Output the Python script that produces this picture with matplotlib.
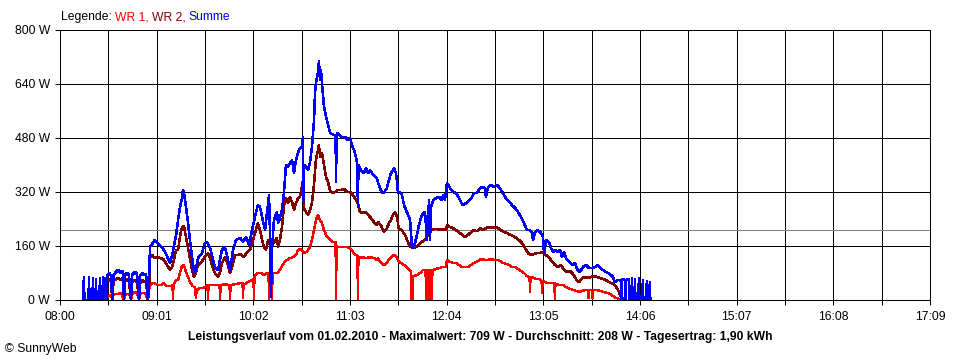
import matplotlib.pyplot as plt

# SunnyWeb day curve, 01.02.2010 - time in minutes after 08:00, power in W
wr1_min = [25.2, 29.0, 29.7, 31.0, 32.2, 33.0, 33.4, 35.3, 36.6, 38.5, 40.4, 41.0, 42.3, 44.2, 44.8, 45.4,
           47.3, 48.6, 49.9, 50.5, 52.0, 53.6, 55.5, 56.2, 56.8, 58.1, 59.9, 61.8, 63.7, 65.6, 67.5, 69.4,
           71.0, 71.3, 71.6, 73.2, 74.5, 75.7, 77.0, 78.2, 79.5, 80.8, 82.0, 83.3, 85.2, 85.8, 86.2, 87.1,
           88.3, 90.2, 91.5, 93.1, 93.4, 93.7, 95.9, 97.8, 100.7, 101.0, 101.3, 104.1, 107.0, 107.3, 107.6,
           110.4, 113.6, 115.2, 115.5, 115.8, 116.7, 118.6, 121.2, 122.1, 122.4, 122.7, 123.0, 124.9, 126.8,
           128.7, 130.6, 131.6, 131.9, 132.2, 132.5, 133.5, 133.8, 134.1, 136.9, 137.6, 139.4, 141.3, 143.2,
           145.1, 147.0, 148.9, 150.2, 151.4, 152.7, 154.0, 155.2, 156.5, 157.8, 159.0, 160.3, 161.5, 162.8,
           164.1, 165.3, 166.6, 167.9, 169.1, 170.4, 172.3, 173.9, 174.2, 174.5, 175.4, 177.9, 180.5, 183.0,
           184.9, 186.8, 187.7, 188.0, 188.3, 189.3, 190.6, 193.1, 195.6, 198.1, 200.0, 200.7, 202.5, 204.4,
           206.3, 208.2, 210.1, 211.4, 212.7, 213.9, 215.2, 217.1, 219.0, 220.9, 221.3, 221.6, 222.4, 222.8,
           223.4, 225.3, 227.2, 229.1, 230.7, 231.0, 231.3, 231.9, 232.2, 232.5, 233.2, 233.5, 233.8, 234.4,
           234.7, 235.0, 235.4, 237.3, 239.8, 241.7, 243.6, 244.2, 246.1, 248.0, 249.9, 251.8, 253.7, 255.6,
           257.5, 259.4, 261.2, 263.1, 263.8, 265.7, 268.2, 270.1, 272.0, 273.9, 275.8, 277.6, 279.5, 281.4,
           283.3, 285.2, 287.1, 289.0, 290.9, 292.8, 294.7, 296.3, 296.6, 296.9, 297.8, 299.1, 300.4, 302.3,
           303.9, 304.2, 304.5, 306.1, 307.9, 309.8, 312.0, 312.3, 312.6, 313.6, 315.5, 317.4, 319.3, 321.8,
           323.7, 325.6, 328.1, 331.3, 333.2, 333.5, 333.8, 335.7, 336.0, 336.3, 338.2, 340.8, 342.6, 345.2,
           347.1, 349.0, 350.9, 353.4, 355.0]
wr1_w = [0, 6, 9, 12, 15, 0, 15, 18, 18, 21, 0, 15, 18, 15, 0, 15,
         24, 21, 0, 18, 21, 21, 0, 30, 44, 50, 50, 44, 44, 50, 41, 41,
         44, 0, 44, 59, 59, 80, 101, 104, 83, 68, 53, 44, 36, 6, 33, 30,
         36, 36, 39, 44, 0, 44, 44, 44, 44, 0, 44, 47, 44, 0, 44,
         47, 50, 50, 6, 47, 47, 53, 59, 62, 0, 68, 71, 80, 80,
         74, 80, 80, 0, 77, 74, 77, 0, 80, 80, 80, 95, 110, 119,
         124, 127, 133, 148, 151, 148, 139, 142, 148, 157, 178, 207, 237, 252,
         237, 228, 207, 193, 184, 178, 172, 172, 0, 160, 157, 157, 157, 154,
         142, 133, 130, 0, 126, 124, 127, 124, 127, 124, 119, 124, 110, 104,
         110, 124, 133, 133, 124, 113, 110, 104, 95, 89, 86, 0, 0, 71,
         71, 74, 80, 89, 89, 0, 89, 89, 0, 89, 89, 0, 89, 89,
         0, 89, 89, 92, 95, 98, 98, 119, 113, 110, 110, 104, 98, 98,
         98, 104, 110, 113, 116, 121, 119, 119, 121, 119, 119, 116, 110, 107,
         104, 98, 98, 92, 86, 80, 71, 68, 24, 68, 68, 65, 62, 62,
         56, 21, 56, 53, 50, 50, 50, 0, 47, 47, 44, 44, 39, 33,
         30, 27, 24, 30, 30, 6, 30, 30, 6, 30, 30, 27, 24, 21,
         18, 12, 6, 3, 0]

wr2_min = [29.0, 29.7, 31.0, 32.2, 33.0, 33.8, 35.3, 36.6, 38.5, 39.7, 40.4, 41.0, 42.3, 43.5, 44.8, 45.4,
           47.3, 48.6, 49.9, 50.5, 51.8, 53.0, 54.3, 55.5, 56.2, 56.8, 58.1, 59.9, 61.8, 63.7, 65.6, 67.5,
           69.4, 70.7, 71.9, 73.2, 74.5, 75.7, 77.0, 78.2, 79.5, 80.8, 82.0, 83.3, 84.6, 85.8, 87.1, 89.0,
           90.9, 92.1, 93.4, 94.7, 96.5, 97.8, 99.7, 101.0, 102.2, 104.1, 106.0, 107.3, 108.5, 110.4, 112.3,
           114.2, 116.1, 118.0, 119.9, 121.2, 122.4, 123.7, 124.9, 126.2, 127.5, 128.7, 130.0, 131.3, 133.1,
           135.0, 136.9, 137.6, 138.8, 140.1, 141.3, 142.6, 143.9, 145.1, 146.4, 147.7, 148.9, 150.2, 151.4,
           152.7, 153.3, 154.0, 155.2, 156.5, 157.8, 159.0, 160.3, 161.5, 162.8, 163.4, 164.1, 165.3, 166.6,
           167.9, 169.1, 170.4, 171.6, 173.5, 175.4, 177.3, 179.2, 181.1, 183.0, 184.9, 186.8, 188.0, 189.3,
           190.6, 192.5, 194.4, 196.2, 198.1, 200.0, 200.7, 202.5, 204.4, 206.3, 207.6, 208.9, 210.1, 211.4,
           212.7, 213.9, 215.2, 216.5, 217.7, 219.0, 220.2, 221.5, 222.8, 224.7, 226.5, 228.4, 230.3, 232.2,
           234.1, 236.0, 237.9, 239.8, 241.7, 243.6, 244.2, 246.1, 248.0, 249.9, 251.8, 253.7, 255.6, 257.5,
           259.4, 261.2, 263.1, 263.8, 265.0, 266.9, 268.8, 270.7, 272.6, 274.5, 276.4, 278.3, 280.2, 282.1,
           284.0, 285.9, 287.7, 289.6, 291.5, 293.4, 295.3, 297.2, 299.1, 301.0, 302.9, 304.8, 306.7, 308.6,
           310.5, 312.3, 314.2, 316.1, 318.0, 319.9, 321.8, 323.7, 325.6, 327.5, 329.4, 331.3, 333.2, 335.1,
           337.0, 338.9, 340.8, 342.6, 344.5, 346.4, 348.3, 350.2, 352.1, 354.0, 356.0]
wr2_w = [0, 56, 62, 53, 0, 56, 62, 65, 59, 65, 0, 56, 62, 56, 0, 53,
         59, 53, 0, 50, 59, 53, 56, 0, 30, 127, 133, 124, 127, 124, 119, 104,
         89, 98, 119, 148, 148, 187, 216, 219, 187, 154, 124, 89, 68, 83, 104, 110,
         124, 133, 139, 124, 95, 80, 68, 83, 110, 127, 104, 80, 95, 133, 133,
         136, 127, 142, 148, 169, 187, 210, 228, 207, 178, 157, 148, 178, 163,
         169, 184, 157, 178, 216, 281, 302, 287, 305, 290, 267, 287, 302, 305,
         335, 356, 270, 261, 252, 267, 287, 344, 415, 444, 459, 424, 436, 400,
         364, 350, 326, 317, 320, 326, 326, 329, 320, 320, 311, 296, 287, 261,
         258, 261, 252, 243, 231, 222, 231, 222, 201, 213, 228, 237, 252, 261,
         246, 207, 210, 201, 193, 178, 163, 157, 154, 157, 163, 172, 178, 193,
         207, 210, 210, 207, 210, 207, 222, 216, 213, 207, 201, 193, 187, 193,
         201, 207, 204, 207, 213, 207, 213, 216, 213, 216, 213, 207, 201, 199,
         193, 190, 184, 178, 169, 154, 139, 133, 136, 139, 139, 142, 133, 127,
         113, 104, 98, 104, 89, 83, 86, 77, 62, 53, 65, 68, 65, 68,
         71, 68, 65, 62, 59, 53, 50, 44, 30, 10, 0]

sum_min = [14.5, 15.1, 15.4, 18.0, 18.3, 18.6, 20.5, 20.8, 21.1, 22.4, 22.7, 23.0, 24.9, 25.2, 25.5, 26.8,
           27.1, 27.4, 28.1, 28.4, 28.7, 29.4, 29.7, 31.0, 32.2, 33.0, 33.8, 35.3, 36.6, 38.5, 39.7, 40.4,
           41.0, 42.3, 43.5, 44.8, 45.4, 47.3, 48.6, 49.9, 50.5, 51.8, 53.0, 54.3, 55.5, 56.2, 56.8, 58.1,
           59.9, 61.8, 63.7, 65.6, 67.5, 69.4, 70.7, 71.9, 73.2, 74.5, 75.7, 77.0, 77.6, 78.2, 79.5, 80.8,
           82.0, 83.3, 84.6, 85.2, 87.1, 89.6, 91.5, 92.8, 94.7, 96.5, 97.8, 99.7, 101.0, 102.2, 104.1, 106.0,
           107.3, 109.2, 111.1, 113.6, 115.5, 117.4, 119.3, 121.2, 123.0, 124.9, 126.2, 127.5, 129.4, 131.3,
           131.9, 132.5, 133.1, 133.8, 135.0, 136.9, 137.6, 138.8, 140.1, 141.3, 142.6, 143.9, 145.1, 146.4,
           147.7, 148.9, 150.2, 151.4, 152.7, 153.3, 153.7, 154.0, 155.2, 156.5, 157.8, 159.0, 160.3, 160.9,
           161.5, 162.2, 162.8, 163.4, 164.1, 164.7, 165.3, 166.6, 167.9, 169.1, 170.4, 172.9, 173.9, 174.2,
           174.5, 175.4, 177.3, 179.8, 181.7, 183.0, 184.3, 185.5, 186.8, 187.6, 188.0, 188.3, 189.3, 190.6,
           191.8, 193.1, 194.4, 195.6, 196.9, 198.1, 200.0, 200.7, 201.9, 203.2, 204.4, 206.3, 207.6, 208.9,
           210.1, 210.8, 212.0, 212.7, 213.3, 214.5, 215.8, 217.1, 218.3, 219.6, 220.9, 221.5, 222.1, 222.8,
           224.0, 225.3, 226.5, 227.8, 229.1, 230.3, 231.6, 232.2, 232.9, 233.5, 234.1, 235.4, 237.3, 239.2,
           241.1, 241.7, 242.9, 244.2, 246.1, 248.0, 249.9, 251.8, 253.0, 254.3, 256.2, 258.1, 260.0, 261.2,
           263.1, 265.0, 266.3, 268.2, 268.8, 270.1, 272.0, 273.9, 275.8, 277.0, 278.3, 280.2, 282.1, 284.0,
           285.2, 287.1, 289.0, 290.9, 292.8, 294.7, 296.6, 297.8, 298.5, 299.7, 301.6, 303.5, 304.8, 305.4,
           306.7, 308.6, 309.8, 311.1, 312.3, 314.2, 315.5, 316.8, 318.0, 319.3, 321.2, 323.1, 325.0, 326.2,
           328.1, 330.0, 331.9, 333.8, 335.7, 337.6, 339.5, 340.8, 342.6, 344.5, 345.8, 347.7, 349.0, 350.2,
           351.5, 353.4, 354.0, 354.3, 354.6, 356.5, 356.8, 357.1, 359.0, 359.3, 360.6, 360.9, 361.2, 362.5,
           362.8, 363.1, 365.0, 365.3, 365.6, 367.5, 367.8, 368.1, 370.0, 370.3, 370.6, 371.9, 372.2, 372.5,
           373.0]
sum_w = [0, 68, 0, 0, 68, 0, 0, 65, 0, 0, 62, 0, 0, 65, 0, 0,
         68, 0, 0, 65, 0, 0, 74, 80, 71, 0, 74, 83, 89, 80, 86, 0,
         74, 80, 74, 0, 74, 83, 77, 0, 71, 80, 74, 77, 0, 62, 157, 166,
         178, 166, 160, 148, 130, 110, 130, 160, 190, 237, 275, 302, 326, 320, 276, 228,
         178, 127, 86, 80, 124, 139, 169, 172, 154, 119, 95, 89, 119, 148, 157, 119,
         89, 148, 178, 184, 172, 187, 163, 207, 246, 281, 276, 246, 207, 287,
         311, 200, 9, 150, 237, 261, 228, 243, 267, 317, 400, 394, 406, 415,
         376, 415, 436, 450, 453, 483, 296, 400, 394, 385, 409, 453, 533, 613,
         643, 661, 673, 708, 652, 681, 643, 572, 542, 519, 495, 489, 489, 350,
         489, 495, 483, 483, 474, 480, 459, 444, 424, 400, 276, 400, 391, 379,
         376, 391, 376, 385, 376, 370, 361, 347, 332, 317, 317, 332, 356, 376,
         385, 391, 376, 350, 317, 320, 311, 281, 267, 252, 237, 199, 157, 154,
         169, 193, 222, 243, 258, 261, 178, 243, 296, 178, 273, 296, 302, 305,
         296, 311, 296, 347, 332, 320, 317, 302, 290, 281, 287, 296, 305, 317,
         317, 332, 335, 332, 305, 335, 341, 335, 341, 335, 326, 311, 296, 290,
         281, 273, 261, 246, 228, 207, 207, 199, 178, 201, 207, 199, 187, 139,
         178, 172, 154, 142, 148, 142, 148, 127, 142, 124, 113, 104, 110, 92,
         83, 98, 104, 95, 95, 98, 104, 95, 89, 83, 80, 74, 68, 53,
         59, 59, 56, 0, 62, 59, 0, 59, 62, 0, 0, 65, 0, 0,
         62, 0, 0, 65, 0, 0, 59, 0, 0, 56, 0, 0, 53, 0,
         0]

avg_w = 208
tick_labels = ['08:00', '09:01', '10:02', '11:03', '12:04', '13:05', '14:06', '15:07', '16:08', '17:09']
y_ticks = [0, 160, 320, 480, 640, 800]

plt.rcParams['font.family'] = 'Liberation Sans'
plt.rcParams['font.size'] = 8.7

px = 0.72  # one pixel in points at 100 dpi

fig = plt.figure(figsize=(9.6, 3.6), dpi=100)
ax = fig.add_axes([60 / 960, 60 / 360, 870 / 960, 270 / 360])

major = [61 * i for i in range(len(tick_labels))]
minor = [61 * i + 30.5 for i in range(len(tick_labels) - 1)]

ax.set_xlim(0, 549)
ax.set_ylim(0, 800)
ax.set_xticks(major)
ax.set_xticklabels(tick_labels)
ax.set_xticks(minor, minor=True)
ax.set_yticks(y_ticks)
ax.set_yticklabels([f'{v} W' for v in y_ticks])
ax.tick_params(axis='both', which='both', length=5 * px, width=px, color='black', direction='out')
ax.tick_params(axis='x', pad=4)
ax.tick_params(axis='y', pad=3.5)

for xv in major + minor:
    ax.axvline(xv, color='black', lw=px, antialiased=False, zorder=1)
for yv in y_ticks:
    ax.axhline(yv, color='black', lw=px, antialiased=False, zorder=1)
for s in ax.spines.values():
    s.set_color('black')
    s.set_linewidth(px)

ax.axhline(avg_w, color='#808080', lw=px, antialiased=False, zorder=2)

ax.plot(wr1_min, wr1_w, color='#ff0000', lw=1.0, antialiased=False, zorder=3)
ax.plot(wr2_min, wr2_w, color='#800000', lw=1.1, antialiased=False, zorder=4)
ax.plot(sum_min, sum_w, color='#0000ff', lw=1.1, antialiased=False, zorder=5)

# legend line at the top, pieces placed one after the other
renderer = fig.canvas.get_renderer()
ty = 1 - 17 / 360
x0 = 61
for s, c in [('Legende:', 'black'), ('WR 1,', '#ff0000'), ('WR 2,', '#800000'), ('Summe', '#0000ff')]:
    t = fig.text(x0 / 960, ty, s, color=c, va='center')
    x0 += t.get_window_extent(renderer=renderer).width + 3

fig.text(480 / 960, 1 - 337 / 360,
         'Leistungsverlauf vom 01.02.2010 - Maximalwert: 709 W - Durchschnitt: 208 W - Tagesertrag: 1,90 kWh',
         ha='center', va='center', fontweight='bold')
fig.text(5 / 960, 1 - 349 / 360, '© SunnyWeb', va='center')

fig.savefig('out.png', dpi=100, facecolor='white')
